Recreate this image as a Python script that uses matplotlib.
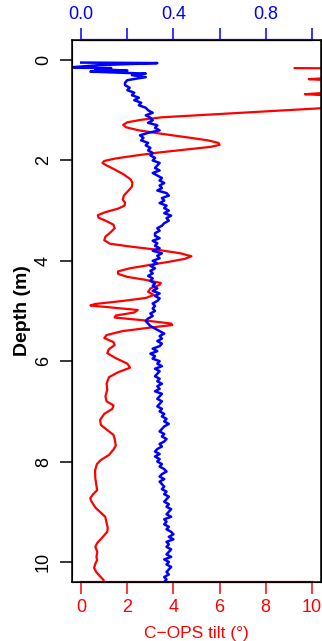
import matplotlib

matplotlib.use("Agg")
import matplotlib.pyplot as plt
import numpy as np

plt.rcParams["font.family"] = ["Liberation Sans", "DejaVu Sans"]

# C-OPS tilt (deg) vs depth (m), bottom axis
tilt_depth = [0.16, 0.17, 0.30, 0.38, 0.46, 0.58, 0.68, 0.76, 0.84, 0.96,
              1.06, 1.14, 1.19, 1.24, 1.29, 1.34, 1.40, 1.47, 1.54, 1.60,
              1.65, 1.69, 1.73, 1.78, 1.84, 1.90, 1.96, 2.01, 2.05, 2.10,
              2.18, 2.28, 2.38, 2.45, 2.52, 2.60, 2.70, 2.78, 2.84, 2.90,
              2.96, 3.03, 3.09, 3.14, 3.20, 3.28, 3.35, 3.42, 3.52, 3.59,
              3.66, 3.72, 3.78, 3.85, 3.91, 3.96, 4.02, 4.08, 4.15, 4.21,
              4.26, 4.32, 4.38, 4.44, 4.48, 4.55, 4.62, 4.68, 4.74, 4.80,
              4.86, 4.89, 4.93, 4.98, 5.03, 5.09, 5.13, 5.19, 5.25, 5.28,
              5.33, 5.40, 5.48, 5.54, 5.62, 5.68, 5.76, 5.84, 5.94, 6.05,
              6.13, 6.22, 6.32, 6.45, 6.57, 6.70, 6.80, 6.88, 6.95, 7.05,
              7.17, 7.27, 7.36, 7.47, 7.55, 7.68, 7.76, 7.87, 7.97, 8.05,
              8.18, 8.33, 8.45, 8.57, 8.66, 8.73, 8.80, 8.92, 9.02, 9.10,
              9.22, 9.32, 9.40, 9.52, 9.62, 9.70, 9.80, 9.90, 9.96, 10.05,
              10.12, 10.20, 10.28, 10.35, 10.40]
tilt = [9.26, 13.0, 13.0, 9.87, 13.0, 13.0, 9.70, 13.0, 15.0, 10.4,
        6.6, 3.5, 2.6, 2.0, 1.82, 1.95, 2.5, 3.5, 4.6, 5.5,
        5.95, 6.0, 5.6, 4.6, 3.4, 2.4, 1.5, 1.0, 0.92, 1.1,
        1.45, 1.85, 2.15, 2.22, 2.2, 2.05, 1.85, 1.80, 1.90, 1.88,
        1.6, 1.05, 0.72, 0.75, 1.05, 1.40, 1.45, 1.3, 1.05, 1.0,
        1.25, 2.2, 3.3, 4.3, 4.78, 4.5, 3.8, 3.0, 2.1, 1.6,
        1.6, 2.0, 2.8, 3.45, 3.4, 3.0, 2.9, 3.15, 2.8, 1.8,
        0.6, 0.4, 1.3, 2.45, 2.3, 1.5, 1.45, 2.8, 3.9, 3.95,
        3.0, 1.8, 1.1, 1.0, 1.4, 1.45, 1.2, 1.13, 1.5, 2.0,
        2.12, 1.6, 1.2, 1.1, 1.13, 1.05, 1.1, 1.4, 1.35, 1.0,
        0.82, 0.85, 1.1, 1.4, 1.45, 1.5, 1.4, 1.2, 0.85, 0.68,
        0.6, 0.61, 0.65, 0.69, 0.5, 0.39, 0.45, 0.62, 0.85, 1.04,
        1.1, 1.15, 1.13, 0.9, 0.7, 0.61, 0.7, 0.66, 0.69, 0.6,
        0.56, 0.65, 0.8, 0.95, 1.0]

# second profile, top axis (0-1)
top_depth = [0.05, 0.06, 0.10, 0.15, 0.16, 0.18, 0.21, 0.23, 0.27, 0.30,
             0.34, 0.40, 0.45]
top_val = [0.00, 0.33, 0.08, -0.06, 0.13, 0.06, 0.20, 0.04, 0.28, 0.22,
           0.28, 0.20, 0.19]
grid_val = [
    0.19, 0.21, 0.20, 0.23, 0.22, 0.25, 0.23, 0.26, 0.25, 0.28,
    0.29, 0.31, 0.28, 0.30, 0.31, 0.29, 0.33, 0.32, 0.34, 0.29,
    0.255, 0.27, 0.26, 0.29, 0.28, 0.30, 0.29, 0.31, 0.30, 0.32,
    0.31, 0.34, 0.33, 0.32, 0.34, 0.31, 0.33, 0.35, 0.34, 0.36,
    0.34, 0.35, 0.33, 0.37, 0.38, 0.35, 0.36, 0.34, 0.37, 0.36,
    0.38, 0.36, 0.39, 0.37, 0.38, 0.36, 0.35, 0.33, 0.34, 0.32,
    0.32, 0.34, 0.31, 0.33, 0.32, 0.34, 0.31, 0.35, 0.33, 0.34,
    0.31, 0.33, 0.30, 0.32, 0.30, 0.31, 0.29, 0.31, 0.30, 0.32,
    0.31, 0.33, 0.31, 0.34, 0.32, 0.34, 0.33, 0.31, 0.32, 0.31,
    0.32, 0.30, 0.31, 0.29, 0.28, 0.29, 0.30, 0.32, 0.34, 0.36,
    0.34, 0.35, 0.33, 0.35, 0.34, 0.31, 0.33, 0.30, 0.32, 0.31,
    0.34, 0.33, 0.35, 0.32, 0.34, 0.33, 0.32, 0.34, 0.33, 0.35,
    0.33, 0.34, 0.32, 0.35, 0.34, 0.33, 0.35, 0.34, 0.33, 0.35,
    0.34, 0.36, 0.35, 0.37, 0.36, 0.38, 0.36, 0.35, 0.34, 0.36,
    0.35, 0.37, 0.36, 0.34, 0.35, 0.33, 0.32, 0.34, 0.32, 0.34,
    0.33, 0.35, 0.34, 0.36, 0.37, 0.35, 0.34, 0.36, 0.34, 0.35,
    0.36, 0.35, 0.37, 0.36, 0.38, 0.37, 0.36, 0.38, 0.37, 0.39,
    0.38, 0.37, 0.39, 0.36, 0.37, 0.36, 0.38, 0.37, 0.39, 0.40,
    0.38, 0.40, 0.37, 0.38, 0.37, 0.39, 0.38, 0.37, 0.39, 0.36,
    0.38, 0.37, 0.39, 0.38, 0.37, 0.38, 0.36, 0.37, 0.36]
grid_depth = np.round(0.5 + 0.05 * np.arange(len(grid_val)), 2)

prof_depth = np.concatenate([top_depth, grid_depth])
prof_val = np.concatenate([top_val, grid_val])

depth_ticks = [0, 2, 4, 6, 8, 10]
tilt_ticks = [0, 2, 4, 6, 8, 10]
top_ticks = [0.0, 0.2, 0.4, 0.6, 0.8, 1.0]
top_labels = ["0.0", "", "0.4", "", "0.8", ""]

fig = plt.figure(figsize=(3.22, 6.41), dpi=100)
ax = fig.add_axes([72 / 322, 59 / 641, 249 / 322, 542 / 641])
ax.plot(tilt, tilt_depth, color="red", lw=1.6)
ax.set_xlim(-0.4, 10.4)
ax.set_ylim(10.4, -0.4)
ax.set_xticks(tilt_ticks)
ax.set_yticks(depth_ticks)
ax.tick_params(axis="x", colors="red", labelcolor="red", length=8.5,
               width=1.1, labelsize=13, pad=4)
ax.tick_params(axis="y", length=8.5, width=1.1, labelsize=13, pad=6,
               labelrotation=90)
for lab in ax.get_yticklabels():
    lab.set_va("center")
ax.set_xlabel("C\u2212OPS tilt (\u00b0)", color="red", fontsize=12.5,
              labelpad=7)
ax.set_ylabel("Depth (m)", fontsize=14, fontweight="bold", labelpad=3)
for s in ax.spines.values():
    s.set_linewidth(1.1)
ax.plot([0, 10], [0, 0], transform=ax.get_xaxis_transform(), color="red",
        lw=1.6, clip_on=False)

ax2 = ax.twiny()
ax2.plot(prof_val, prof_depth, color="blue", lw=1.8)
ax2.set_xlim(-0.04, 1.04)
ax2.set_xticks(top_ticks)
ax2.set_xticklabels(top_labels)
ax2.tick_params(axis="x", colors="blue", labelcolor="blue", length=8.5,
                width=1.1, labelsize=13, pad=4)
ax2.plot([0, 1], [1, 1], transform=ax2.get_xaxis_transform(), color="blue",
         lw=1.6, clip_on=False)
ax2.set_ylim(10.4, -0.4)

fig.savefig("out.png", dpi=100)
